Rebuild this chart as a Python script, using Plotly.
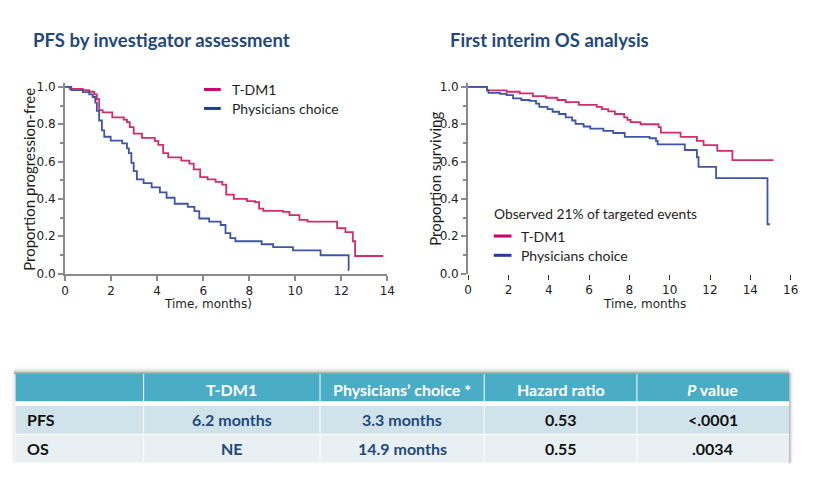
import plotly.graph_objects as go
import html

# ---------------- data ----------------
pfs_tdm1_t = [0, 0.2, 0.77, 1.05, 1.27, 1.38, 1.48, 1.63, 2.05, 2.55, 2.69, 2.81, 2.98, 3.34, 3.9, 4.05,
              4.26, 4.48, 5.05, 5.4, 5.59, 5.87, 6.19, 6.54, 6.83, 7.0, 7.33, 7.9, 8.25, 8.43, 8.61, 9.47,
              9.75, 10.18, 10.53, 11.82, 12.18, 12.5, 12.6, 13.82]
pfs_tdm1_s = [1.0, 0.99, 0.983, 0.974, 0.96, 0.934, 0.876, 0.864, 0.837, 0.825, 0.811, 0.785, 0.75, 0.727,
              0.71, 0.689, 0.645, 0.622, 0.605, 0.589, 0.558, 0.517, 0.505, 0.491, 0.476, 0.423, 0.40,
              0.388, 0.383, 0.348, 0.336, 0.33, 0.313, 0.287, 0.278, 0.243, 0.222, 0.173, 0.094, 0.094]

pfs_pc_t = [0, 0.27, 0.77, 1.05, 1.2, 1.31, 1.38, 1.48, 1.6, 1.7, 1.98, 2.48, 2.69, 2.77, 2.88, 2.98, 3.12,
            3.41, 3.76, 4.12, 4.41, 4.76, 5.33, 5.62, 5.83, 6.26, 6.76, 6.97, 7.18, 7.4, 8.54, 9.04, 9.9,
            11.1, 12.32, 12.34]
pfs_pc_s = [1.0, 0.983, 0.972, 0.96, 0.946, 0.916, 0.872, 0.82, 0.767, 0.733, 0.712, 0.698, 0.671, 0.645,
            0.593, 0.549, 0.505, 0.484, 0.462, 0.435, 0.406, 0.374, 0.357, 0.334, 0.295, 0.278, 0.26,
            0.217, 0.19, 0.173, 0.157, 0.142, 0.124, 0.098, 0.019, 0.019]

os_tdm1_t = [0, 0.93, 1.91, 2.56, 3.21, 3.86, 4.43, 4.84, 5.49, 6.38, 6.63, 6.95, 7.28, 7.74, 7.9, 8.06,
             8.55, 9.45, 9.56, 10.54, 11.35, 11.68, 12.36, 13.11, 15.15]
os_tdm1_s = [1.0, 0.982, 0.974, 0.965, 0.951, 0.942, 0.93, 0.919, 0.904, 0.893, 0.881, 0.869, 0.855, 0.837,
             0.823, 0.811, 0.80, 0.785, 0.755, 0.732, 0.711, 0.688, 0.657, 0.608, 0.608]

os_pc_t = [0, 0.93, 1.01, 1.58, 1.91, 2.23, 2.64, 3.05, 3.37, 3.53, 3.94, 4.19, 4.51, 4.84, 5.16, 5.33,
           5.73, 6.06, 6.71, 7.2, 7.77, 9.0, 9.32, 9.4, 10.75, 11.35, 11.43, 12.3, 14.85, 14.97]
os_pc_s = [1.0, 0.982, 0.968, 0.963, 0.956, 0.939, 0.93, 0.925, 0.911, 0.893, 0.881, 0.867, 0.855, 0.837,
           0.82, 0.802, 0.788, 0.776, 0.764, 0.753, 0.732, 0.725, 0.711, 0.692, 0.662, 0.623, 0.571,
           0.511, 0.264, 0.264]

series_names = ["T-DM1", "Physicians choice"]
pfs_title = "PFS by investigator assessment"
os_title = "First interim OS analysis"
pfs_ylabel = "Proportion progression-free"
os_ylabel = "Proportion surviving"
pfs_xlabel = "Time, months)"
os_xlabel = "Time, months"
os_note = "Observed 21% of targeted events"

table_header = ["", "T-DM1", "Physicians’ choice *", "Hazard ratio", "<i>P</i> value"]
table_rows = [["PFS", "6.2 months", "3.3 months", "0.53", "<.0001"],
              ["OS", "NE", "14.9 months", "0.55", ".0034"]]

# ---------------- styling ----------------
W, H = 822, 478
def px(x): return x / W
def py(y): return 1 - y / H

RED = "#D42A6E"
BLUE = "#3D55A8"
RED_LEG = "#CC0066"
BLUE_LEG = "#1F3C99"
AX = "#8a8a8a"
TITLE_C = "#1F497D"
TXT = "#1e1e1e"
FONT = "Lato"
TICKFONT = dict(family="DejaVu Sans", size=12, color="#222")

fig = go.Figure()
for t, s, c, xa, ya in [(pfs_tdm1_t, pfs_tdm1_s, RED, "x", "y"),
                        (pfs_pc_t, pfs_pc_s, BLUE, "x", "y"),
                        (os_tdm1_t, os_tdm1_s, RED, "x2", "y2"),
                        (os_pc_t, os_pc_s, BLUE, "x2", "y2")]:
    fig.add_trace(go.Scatter(x=t, y=s, mode="lines", line=dict(shape="hv", color=c, width=1.8),
                             xaxis=xa, yaxis=ya, showlegend=False, hoverinfo="skip"))

ydom = [py(276.3), py(81.9)]
common_y = dict(range=[0, 1.02], tick0=0, dtick=0.2, tickformat=".1f", showline=True, linecolor=AX,
                linewidth=2, ticks="outside", ticklen=5, tickwidth=1.5, tickcolor=AX, showgrid=False,
                zeroline=False, tickfont=TICKFONT,
                minor=dict(dtick=0.1, ticks="outside", ticklen=3, tickwidth=1.5, tickcolor=AX))
fig.update_layout(
    width=W, height=H, margin=dict(l=0, r=0, t=0, b=0),
    paper_bgcolor="white", plot_bgcolor="white",
    xaxis=dict(domain=[px(62), px(389)], range=[0, 14], tick0=0, dtick=2, showline=True, linecolor=AX,
               linewidth=2, ticks="outside", ticklen=5, tickwidth=2, tickcolor=AX, showgrid=False,
               zeroline=False, tickfont=TICKFONT, anchor="y"),
    yaxis=dict(domain=ydom, anchor="x", **common_y),
    xaxis2=dict(domain=[px(471), px(798.3)], range=[0, 16], tick0=0, dtick=2, showline=False,
                ticks="outside", ticklen=5, tickwidth=1.2, tickcolor="#333", showgrid=False,
                zeroline=False, tickfont=TICKFONT, anchor="y2"),
    yaxis2=dict(domain=ydom, anchor="x2", **common_y),
)

ann = []
shapes = []
def text(x, y, s, size, color=TXT, bold=False, xanchor="left", family=FONT, textangle=0):
    ann.append(dict(xref="paper", yref="paper", x=px(x), y=py(y), text=("<b>%s</b>" % s) if bold else s,
                    showarrow=False, xanchor=xanchor, yanchor="middle", textangle=textangle,
                    font=dict(family=family, size=size, color=color)))

def hline(x0, x1, y, color, width):
    shapes.append(dict(type="line", xref="paper", yref="paper", x0=px(x0), x1=px(x1), y0=py(y), y1=py(y),
                       line=dict(color=color, width=width)))

def rect(x0, y0, x1, y1, color):
    shapes.append(dict(type="rect", xref="paper", yref="paper", x0=px(x0), x1=px(x1), y0=py(y1), y1=py(y0),
                       fillcolor=color, line=dict(width=0), layer="below"))

# titles
text(27, 38, pfs_title, 18.5, TITLE_C, bold=True)
text(450.5, 38, os_title, 18.5, TITLE_C, bold=True)
# axis titles
text(26, 180, pfs_ylabel, 15, TXT, xanchor="center", textangle=-90)
text(438, 180, os_ylabel, 15, TXT, xanchor="center", textangle=-90)
text(207, 307, pfs_xlabel, 12, TXT, xanchor="center", family="DejaVu Sans")
text(650, 307, os_xlabel, 12, TXT, xanchor="center", family="DejaVu Sans")
# legends
for (lx0, lx1, tx, ys) in [(203, 220, 229, (88.3, 107.7)), (497, 515, 523, (238, 257.7))]:
    for name, col, yy in zip(series_names, [RED_LEG, BLUE_LEG], ys):
        hline(lx0, lx1, yy, col, 3)
        text(tx, yy, name, 14, TXT)
text(495, 215, os_note, 13.8, TXT)

# table
col_edges = [11.7, 141.7, 320.7, 487.3, 642.3, 796.7]
row_bounds = [(379, 406.7), (411.7, 440), (441, 469.3)]
row_fills = ["#4BACC6", "#D0E3EA", "#E8F0F3"]
# shadow
shadow_top = ["#fbfbfb", "#f3f3f3", "#e8e8e8", "#dadada", "#c8c8c8", "#b4b4b4", "#a0a0a0"]
for i, c in enumerate(shadow_top):
    rect(10, 372 + i, 797, 373 + i, c)
for i, c in enumerate(["#b8b8b8", "#d4d4d4", "#e8e8e8", "#f5f5f5"]):
    rect(796.7 + i, 378, 797.7 + i, 470, c)
rect(8.5, 379, 11.7, 470, "#f0f0f0")
for (y0, y1), fc in zip(row_bounds, row_fills):
    rect(col_edges[0], y0, col_edges[-1], y1, fc)
for xe in col_edges[1:-1]:
    for (y0, y1) in row_bounds:
        shapes.append(dict(type="line", xref="paper", yref="paper", x0=px(xe), x1=px(xe), y0=py(y0),
                           y1=py(y1), line=dict(color="white", width=1)))
col_centers = [(col_edges[i] + col_edges[i + 1]) / 2 for i in range(5)]
for j, h in enumerate(table_header):
    if h:
        text(col_centers[j], 394.5, h, 16, "white", bold=True, xanchor="center")
for r, (row, yc) in enumerate(zip(table_rows, [425.7, 455])):
    for j, v in enumerate(row):
        v = html.escape(v)
        if j == 0:
            text(21.5, yc, v, 16, "#111", bold=True)
        else:
            text(col_centers[j], yc, v, 16, TITLE_C if j in (1, 2) else "#111", bold=True, xanchor="center")

fig.update_layout(annotations=ann, shapes=shapes)
fig.write_html("out.html", config={"displayModeBar": False},
               post_script="document.body.style.margin='0';document.body.style.overflow='hidden';")
